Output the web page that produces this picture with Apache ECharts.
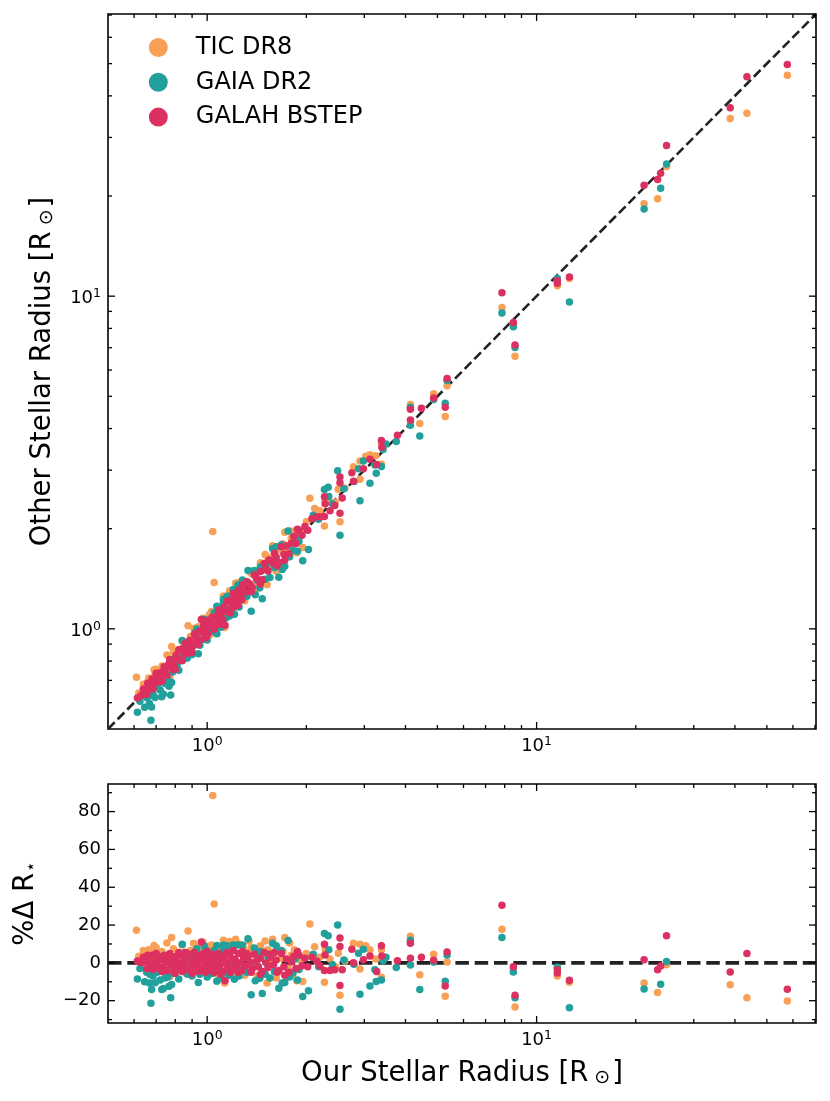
<!DOCTYPE html>
<html>
<head>
<meta charset="utf-8">
<title>Stellar radius comparison</title>
<script src="https://cdn.jsdelivr.net/npm/echarts@6.0.0/dist/echarts.min.js"></script>
<style>
    html, body {
        margin: 0;
        padding: 0;
        background: #fff;
    }

    #chart {
        width: 830px;
        height: 1101px;
    }
</style>
</head>
<body>
<div id="chart"></div>
<script type="text/javascript">
    // [our radius (R_sun), % difference of the other catalogue]
    var ticDR8 = [
        [0.61, 17.3], [0.62, 3.5], [0.64, 6.5], [0.646, 5.4], [0.655, 2.5], [0.66, 5.0], [0.665, 7.0],
        [0.668, 3.8], [0.675, 4.5], [0.69, 9.2], [0.695, 5.5], [0.7, 3.0], [0.7, 8.0], [0.71, 4.2],
        [0.72, 1.8], [0.72, -4.5], [0.73, 6.0], [0.745, 2.5], [0.755, 10.5], [0.76, 0.8], [0.77, -7.2],
        [0.78, 13.4], [0.785, 3.2], [0.79, 7.5], [0.8, 1.5], [0.815, -2.0], [0.82, 5.5], [0.84, 9.5],
        [0.845, 4.0], [0.86, 2.0], [0.875, 16.8], [0.88, -1.0], [0.88, -5.5], [0.89, 6.5], [0.91, 10.4],
        [0.915, 3.0], [0.93, -3.5], [0.94, 8.0], [0.95, 5.5], [0.965, -1.5], [0.97, 11.0], [0.98, 2.5],
        [1.0, -4.0], [1.0, 6.0], [1.015, 8.6], [1.02, -6.0], [1.03, 9.5], [1.04, 88.5], [1.05, 31.2],
        [1.06, 1.5], [1.075, -6.0], [1.08, 7.0], [1.09, 4.0], [1.11, -2.5], [1.12, 12.0], [1.13, -10.7],
        [1.15, 6.0], [1.16, 8.5], [1.17, 11.3], [1.19, 2.0], [1.2, 6.5], [1.2, -5.0], [1.22, 12.5],
        [1.24, -4.0], [1.25, 10.0], [1.27, 5.0], [1.29, 7.5], [1.3, -6.5], [1.33, 3.5], [1.34, 11.5],
        [1.36, 8.0], [1.38, 5.5], [1.4, -2.0], [1.42, -7.0], [1.43, 4.5], [1.45, 9.0], [1.47, 6.5],
        [1.5, 11.6], [1.52, -10.7], [1.53, 7.0], [1.55, 1.0], [1.58, 12.5], [1.6, 5.5], [1.62, -8.0],
        [1.63, 8.0], [1.64, -5.0], [1.68, 2.5], [1.7, 6.0], [1.72, 13.4], [1.76, -3.0], [1.78, 10.5],
        [1.8, 4.0], [1.82, -6.0], [1.84, 7.0], [1.87, -9.5], [1.92, 1.5], [1.95, -9.9], [2.0, 5.0],
        [2.05, 20.5], [2.12, 8.5], [2.2, 3.0], [2.27, -10.2], [2.28, 6.9], [2.36, 2.0], [2.45, -2.0],
        [2.5, 5.1], [2.53, -17.1], [2.62, 1.0], [2.78, 10.4], [2.91, 9.9], [2.91, -3.2], [3.03, 9.0],
        [3.12, 6.9], [3.25, 2.0], [3.38, -7.6], [3.38, 7.0],
        [4.14, 14.1], [4.42, -6.3], [4.87, 4.6], [5.28, -17.6], [5.35, 0.5], [7.85, 17.8], [8.5, -3.2],
        [8.6, -23.3], [11.56, -7.0], [12.58, -10.2], [21.2, -10.6], [23.3, -15.7], [24.8, -1.0],
        [38.7, -11.6], [43.5, -18.4], [57.7, -20.1]
    ];

    var gaiaDR2 = [
        [0.614, -8.5], [0.625, -3.0], [0.646, -10.0], [0.655, -5.0], [0.668, -10.7], [0.67, -6.0],
        [0.675, -21.3], [0.678, -14.1], [0.685, -7.0], [0.695, -10.5], [0.7, -1.5], [0.705, -5.0],
        [0.715, -3.0], [0.72, -9.0], [0.728, -14.1], [0.736, -13.5], [0.745, -8.0], [0.75, -4.0],
        [0.76, -7.5], [0.766, -12.3], [0.775, -18.4], [0.78, -11.5], [0.785, -5.5], [0.8, 1.5],
        [0.81, -4.0], [0.82, -8.5], [0.84, 9.9], [0.845, -2.0], [0.855, 5.5], [0.86, -5.0], [0.87, -6.0],
        [0.885, 3.5], [0.9, -1.0], [0.9, -7.0], [0.92, 6.0], [0.93, 7.5], [0.94, -10.4], [0.95, -6.0],
        [0.96, 2.0], [0.975, -4.5], [0.98, 9.0], [0.99, 7.0], [1.0, -7.5], [1.01, -2.5], [1.03, 3.5],
        [1.04, -5.5], [1.05, 6.5], [1.07, -9.7], [1.07, 9.2], [1.085, -4.0], [1.1, 5.0], [1.1, -8.0],
        [1.12, 9.5], [1.12, 7.0], [1.14, -5.5], [1.15, 9.0], [1.17, -6.5], [1.18, -2.0], [1.2, 9.4],
        [1.21, -8.6], [1.24, 9.4], [1.25, -7.0], [1.26, -3.0], [1.28, 9.5], [1.29, 5.0], [1.32, -5.0],
        [1.33, 12.7], [1.36, -16.9], [1.39, 7.8], [1.4, -9.5], [1.42, -1.5], [1.445, -8.1], [1.45, 6.0],
        [1.47, -16.2], [1.5, -6.0], [1.53, 3.0], [1.55, -8.0], [1.58, 10.4], [1.6, -4.5], [1.62, 9.0],
        [1.65, -13.4], [1.68, 6.5], [1.69, -10.7], [1.72, -10.4], [1.76, 11.8], [1.78, -7.5], [1.82, -5.4],
        [1.85, 2.0], [1.88, -9.0], [1.9, -3.5], [1.95, -17.8], [2.03, -14.7], [2.1, 4.5], [2.18, -2.0],
        [2.27, 15.5], [2.33, 14.3], [2.34, 6.9], [2.4, -1.0], [2.49, 20.0], [2.53, -24.5], [2.6, 1.5],
        [2.79, -0.7], [2.88, 5.1], [2.91, -16.6], [2.98, 7.2], [3.12, -12.2], [3.23, -3.7], [3.26, -9.9],
        [3.38, -9.0], [3.42, 1.1], [3.49, 3.0], [3.75, -2.5],
        [4.14, 12.0], [4.14, -1.1], [4.42, -14.1], [4.87, 0.4], [5.28, -9.7], [5.35, 4.2], [7.85, 13.4],
        [8.5, -4.8], [8.6, -18.5], [11.56, -2.3], [12.58, -23.7], [21.2, -13.8], [23.8, -11.3], [24.8, 0.7]
    ];

    var galahBstep = [
        [0.614, 1.0], [0.63, 0.0], [0.64, 3.0], [0.646, 0.8], [0.655, -3.0], [0.66, 4.0], [0.665, -1.5],
        [0.675, 1.5], [0.68, 4.0], [0.685, -3.5], [0.695, -1.0], [0.7, 5.0], [0.705, 0.5], [0.71, 3.5],
        [0.715, -3.0], [0.725, 2.0], [0.73, -4.5], [0.735, -2.0], [0.74, 4.0], [0.745, 0.0], [0.755, -4.0],
        [0.765, 2.5], [0.77, 5.0], [0.775, -1.0], [0.785, 1.0], [0.79, -4.5], [0.795, -3.0], [0.8, -5.5],
        [0.805, 3.5], [0.815, 0.0], [0.82, 5.5], [0.825, -2.5], [0.835, 4.0], [0.84, -4.5], [0.845, 1.0],
        [0.855, -1.5], [0.86, 5.5], [0.865, 2.0], [0.875, -3.5], [0.885, 4.5], [0.895, 0.5], [0.9, -5.5],
        [0.905, -2.0], [0.915, 5.5], [0.925, 2.5], [0.935, -1.0], [0.94, -4.5], [0.945, 4.0], [0.955, -3.0],
        [0.96, 11.1], [0.965, 1.5], [0.975, 5.0], [0.985, -1.5], [0.99, -5.0], [0.995, 2.0], [1.0, 6.0],
        [1.005, -4.0], [1.015, 3.0], [1.025, 0.0], [1.035, 4.5], [1.045, -2.0], [1.05, -5.0], [1.055, 1.5],
        [1.065, -3.5], [1.075, 2.5], [1.085, 5.0], [1.095, -1.0], [1.1, -6.0], [1.105, 1.0], [1.115, -4.5],
        [1.125, 3.5], [1.133, -9.5], [1.14, 0.5], [1.15, 5.5], [1.155, -2.5], [1.17, 4.0], [1.175, -5.0],
        [1.185, 1.0], [1.2, -3.0], [1.2, 6.5], [1.215, 2.0], [1.23, -1.0], [1.24, -5.0], [1.245, 5.0],
        [1.26, 0.0], [1.275, -4.0], [1.28, 6.0], [1.29, 2.5], [1.31, -1.5], [1.32, 5.0], [1.33, 3.5],
        [1.35, 0.5], [1.36, -5.0], [1.37, -3.0], [1.39, 4.5], [1.41, 1.0], [1.43, -2.0], [1.45, 2.5],
        [1.45, -6.0], [1.47, -4.5], [1.49, 5.5], [1.51, 0.0], [1.53, -2.5], [1.54, 4.5], [1.56, 3.0],
        [1.59, -1.0], [1.6, 5.5], [1.62, 1.5], [1.63, -5.0], [1.65, -4.0], [1.68, 5.0], [1.71, -2.0],
        [1.72, -6.5], [1.74, 2.0], [1.77, -5.0], [1.8, 0.5], [1.83, 3.5], [1.86, -3.0], [1.88, 6.0],
        [1.9, 4.0], [1.94, -1.5], [1.98, 2.5], [2.02, -2.0], [2.08, 3.0], [2.15, 1.0], [2.2, -1.5],
        [2.27, 9.9], [2.28, 4.2], [2.27, -4.1], [2.36, -4.1], [2.44, -3.7], [2.53, 13.1], [2.53, 8.6],
        [2.53, -12.0], [2.57, -3.7], [2.75, 7.2], [2.78, 0.0], [2.98, 1.6], [3.12, 3.7], [3.27, -4.6],
        [3.38, 9.0], [3.39, 3.7], [3.78, 1.1],
        [4.14, 10.4], [4.14, 2.5], [4.47, 3.0], [4.87, 1.4], [5.28, -12.2], [5.35, 5.7], [7.85, 30.5],
        [8.5, -2.0], [8.6, -17.1], [11.56, -3.7], [11.56, -5.4], [12.58, -9.2], [21.2, 1.6], [23.3, -3.7],
        [23.8, -1.6], [24.8, 14.4], [38.7, -4.8], [43.5, 4.9], [57.7, -13.9]
    ];

    var seriesNames = ['TIC DR8', 'GAIA DR2', 'GALAH BSTEP'];
    var seriesColors = ['#f8a055', '#22a09c', '#dc3060'];

    // tick positions
    var logMajorTicks = [1, 10];
    var logMinorTicks = [0.6, 0.7, 0.8, 0.9, 2, 3, 4, 5, 6, 7, 8, 9, 20, 30, 40, 50, 60, 70];
    var deltaMajorTicks = [-20, 0, 20, 40, 60, 80];
    var deltaMinorTicks = [-30, -10, 10, 30, 50, 70, 90];

    var radiusRange = [0.5, 70.5];
    var deltaRange = [-31.8, 94.6];

    var FONT = 'DejaVu Sans';

    var chart = echarts.init(document.getElementById('chart'));

    // other catalogue radius from our radius and the % difference
    function toRadius(list) {
        return list.map(function (p) {
            return [p[0], +(p[0] * (1 + p[1] / 100)).toFixed(4)];
        });
    }

    // 10^n labels
    var supRich = {
        b: { fontSize: 18, lineHeight: 18, padding: [4, 0, 0, 0], fontFamily: FONT, color: '#000' },
        s: { fontSize: 12.5, lineHeight: 13, verticalAlign: 'top', fontFamily: FONT, color: '#000' }
    };

    function powLabel(v) {
        var e = Math.log10(v);
        var r = Math.round(e);
        if (Math.abs(e - r) < 1e-6) {
            return '{b|10}{s|' + r + '}';
        }
        return '';
    }

    var nameRich = {
        sub: { fontSize: 19, lineHeight: 14, verticalAlign: 'bottom', padding: [0, 2, 0, 6], fontFamily: FONT, color: '#000' },
        star: { fontSize: 17, lineHeight: 6, verticalAlign: 'bottom', padding: [0, 0, 0, 1], fontFamily: FONT, color: '#000' }
    };

    function logAxis(gridIndex, margin) {
        return {
            gridIndex: gridIndex,
            type: 'log',
            logBase: 10,
            min: radiusRange[0],
            max: radiusRange[1],
            axisLine: { show: false },
            axisTick: { show: false },
            splitLine: { show: false },
            axisLabel: {
                formatter: powLabel,
                rich: supRich,
                margin: margin,
                showMinLabel: false,
                showMaxLabel: false
            }
        };
    }

    // tick marks drawn inward on all four sides
    function tickData(xMajor, xMinor, yMajor, yMinor, xRef, yRef) {
        var d = [];
        xMajor.forEach(function (v) { d.push([v, yRef, 0]); });
        xMinor.forEach(function (v) { d.push([v, yRef, 1]); });
        yMajor.forEach(function (v) { d.push([xRef, v, 2]); });
        yMinor.forEach(function (v) { d.push([xRef, v, 3]); });
        return d;
    }

    function renderTicks(params, api) {
        var cs = params.coordSys;
        var kind = api.value(2);
        var len = (kind === 0 || kind === 2) ? 7 : 4;
        var p = api.coord([api.value(0), api.value(1)]);
        var style = { stroke: '#000', lineWidth: 1.3 };
        var a, b;
        if (kind < 2) {
            var bottom = cs.y + cs.height;
            a = { x1: p[0], y1: bottom, x2: p[0], y2: bottom - len };
            b = { x1: p[0], y1: cs.y, x2: p[0], y2: cs.y + len };
        } else {
            var right = cs.x + cs.width;
            a = { x1: cs.x, y1: p[1], x2: cs.x + len, y2: p[1] };
            b = { x1: right, y1: p[1], x2: right - len, y2: p[1] };
        }
        return {
            type: 'group',
            children: [
                { type: 'line', shape: a, style: style },
                { type: 'line', shape: b, style: style }
            ]
        };
    }

    var xTop = logAxis(0, 6);
    var xBottom = logAxis(1, 6);
    xBottom.name = 'Our Stellar Radius [R{sub|\u2299}]';
    xBottom.nameLocation = 'middle';
    xBottom.nameGap = 37;
    xBottom.nameTextStyle = { fontSize: 27.5, fontFamily: FONT, color: '#000', rich: nameRich };

    var yTop = logAxis(0, 7);
    yTop.name = 'Other Stellar Radius [R{sub|\u2299}]';
    yTop.nameLocation = 'middle';
    yTop.nameGap = 51;
    yTop.nameTextStyle = { fontSize: 27.5, fontFamily: FONT, color: '#000', rich: nameRich };

    var yBottom = {
        gridIndex: 1,
        type: 'value',
        min: deltaRange[0],
        max: deltaRange[1],
        axisLine: { show: false },
        axisTick: { show: false },
        splitLine: { show: false },
        axisLabel: {
            customValues: deltaMajorTicks,
            formatter: function (v) {
                return v < 0 ? '\u2212' + (-v) : '' + v;
            },
            fontSize: 18,
            fontFamily: FONT,
            color: '#000',
            margin: 7
        },
        name: '%\u0394 R{star|\u22c6}',
        nameLocation: 'middle',
        nameGap: 68,
        nameTextStyle: { fontSize: 27.5, fontFamily: FONT, color: '#000', rich: nameRich }
    };

    var catalogues = [ticDR8, gaiaDR2, galahBstep];
    var series = [];

    series.push({
        type: 'line',
        xAxisIndex: 0,
        yAxisIndex: 0,
        data: [[radiusRange[0], radiusRange[0]], [radiusRange[1], radiusRange[1]]],
        symbol: 'none',
        silent: true,
        z: 1,
        lineStyle: { color: '#222', width: 2.6, type: [9.5, 4.2] }
    });
    series.push({
        type: 'line',
        xAxisIndex: 1,
        yAxisIndex: 1,
        data: [[radiusRange[0], 0], [radiusRange[1], 0]],
        symbol: 'none',
        silent: true,
        z: 1,
        lineStyle: { color: '#222', width: 3.6, type: [13.5, 5.8] }
    });

    catalogues.forEach(function (list, i) {
        series.push({
            name: seriesNames[i],
            type: 'scatter',
            xAxisIndex: 0,
            yAxisIndex: 0,
            data: toRadius(list),
            symbolSize: 7.5,
            z: 2 + i,
            itemStyle: { color: seriesColors[i], opacity: 1 }
        });
        series.push({
            name: seriesNames[i],
            type: 'scatter',
            xAxisIndex: 1,
            yAxisIndex: 1,
            data: list,
            symbolSize: 7.5,
            z: 2 + i,
            itemStyle: { color: seriesColors[i], opacity: 1 }
        });
    });

    series.push({
        type: 'custom',
        xAxisIndex: 0,
        yAxisIndex: 0,
        silent: true,
        clip: false,
        z: 10,
        encode: { x: 0, y: 1 },
        renderItem: renderTicks,
        data: tickData(logMajorTicks, logMinorTicks, logMajorTicks, logMinorTicks, 1, 1)
    });
    series.push({
        type: 'custom',
        xAxisIndex: 1,
        yAxisIndex: 1,
        silent: true,
        clip: false,
        z: 10,
        encode: { x: 0, y: 1 },
        renderItem: renderTicks,
        data: tickData(logMajorTicks, logMinorTicks, deltaMajorTicks, deltaMinorTicks, 1, 0)
    });

    var option = {
        animation: false,
        backgroundColor: '#fff',
        textStyle: { fontFamily: FONT },
        grid: [
            { left: 108, top: 14, width: 708, height: 715, show: true, borderColor: '#000', borderWidth: 1.6, outerBoundsMode: 'none' },
            { left: 108, top: 784, width: 708, height: 239, show: true, borderColor: '#000', borderWidth: 1.6, outerBoundsMode: 'none' }
        ],
        legend: {
            data: seriesNames,
            orient: 'vertical',
            left: 143.8,
            top: 30.5,
            itemWidth: 19,
            itemHeight: 19,
            itemGap: 10.8,
            icon: 'circle',
            selectedMode: false,
            textStyle: { fontSize: 24, fontFamily: FONT, color: '#000', padding: [0, 0, 0, 23] }
        },
        xAxis: [xTop, xBottom],
        yAxis: [yTop, yBottom],
        series: series
    };

    chart.setOption(option);
</script>
</body>
</html>
